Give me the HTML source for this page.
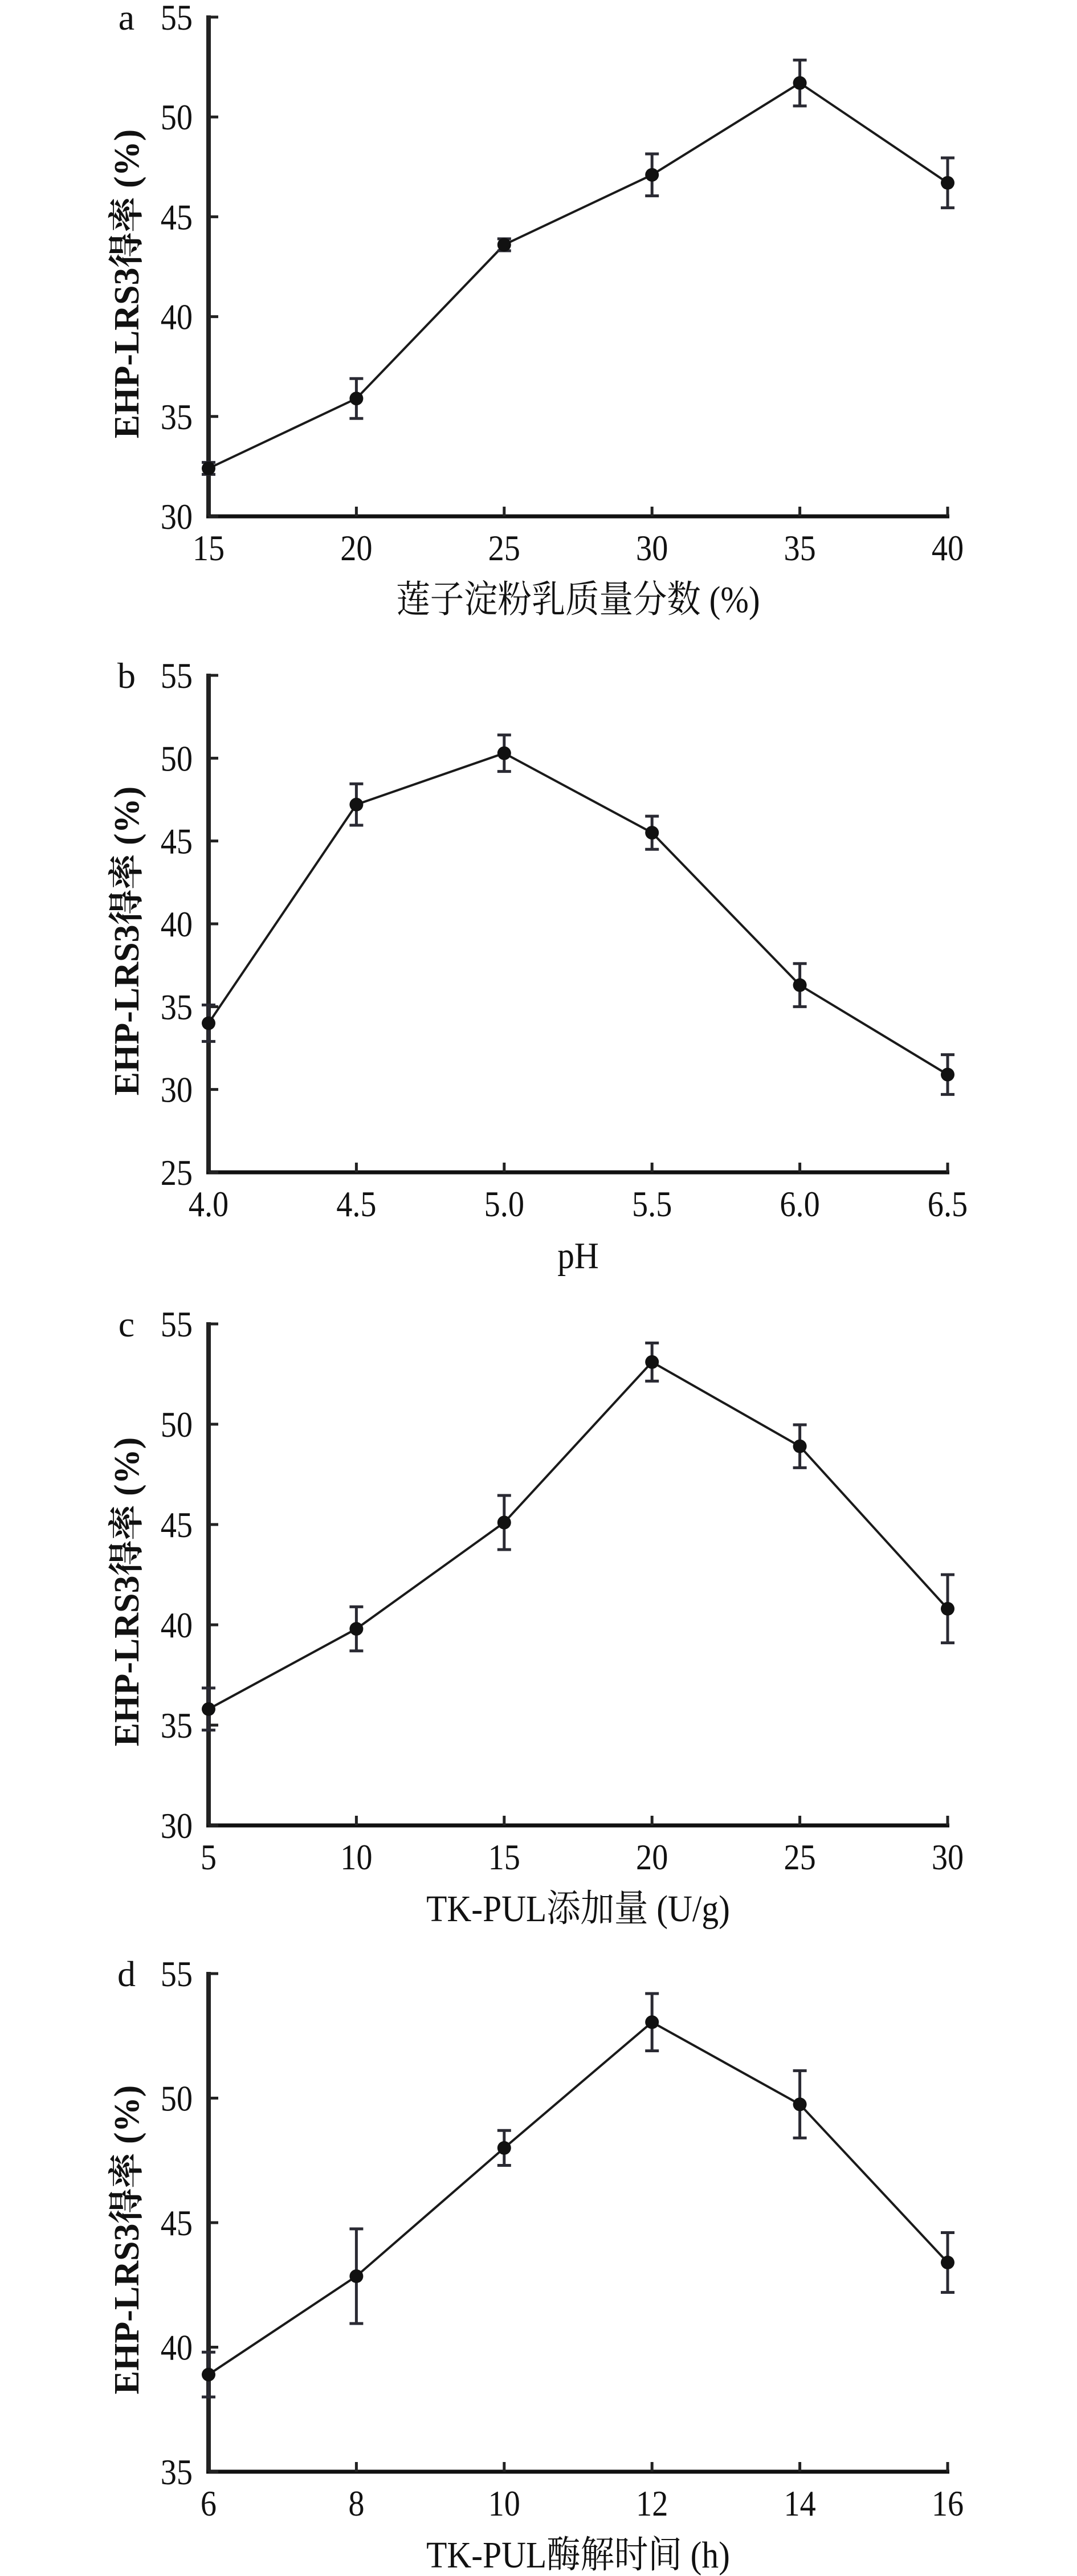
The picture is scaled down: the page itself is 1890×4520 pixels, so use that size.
<!DOCTYPE html>
<html><head><meta charset="utf-8"><style>
html,body{margin:0;padding:0;background:#fff;}
svg{display:block;}
text{font-family:"Liberation Serif","Noto Serif CJK SC",serif;fill:#111;}
</style></head><body>
<svg id="fig" width="1890" height="4520" viewBox="0 0 1890 4520" xmlns="http://www.w3.org/2000/svg"></svg>
<script>
// Panel a
const catsA = [15, 20, 25, 30, 35, 40];
const valsA = [32.4, 35.9, 43.6, 47.1, 51.7, 46.7];
const errsA = [0.3, 1.0, 0.3, 1.05, 1.15, 1.25];
const yTicksA = [30, 35, 40, 45, 50, 55];
const xLabelsA = ["15", "20", "25", "30", "35", "40"];
// Panel b
const catsB = [4.0, 4.5, 5.0, 5.5, 6.0, 6.5];
const valsB = [34.0, 47.2, 50.3, 45.5, 36.3, 30.9];
const errsB = [1.1, 1.25, 1.1, 1.0, 1.3, 1.2];
const yTicksB = [25, 30, 35, 40, 45, 50, 55];
const xLabelsB = ["4.0", "4.5", "5.0", "5.5", "6.0", "6.5"];
// Panel c
const catsC = [5, 10, 15, 20, 25, 30];
const valsC = [35.8, 39.8, 45.1, 53.1, 48.9, 40.8];
const errsC = [1.05, 1.1, 1.35, 0.95, 1.07, 1.7];
const yTicksC = [30, 35, 40, 45, 50, 55];
const xLabelsC = ["5", "10", "15", "20", "25", "30"];
// Panel d
const catsD = [6, 8, 10, 12, 14, 16];
const valsD = [38.9, 42.85, 48.0, 53.05, 49.75, 43.4];
const errsD = [0.9, 1.9, 0.7, 1.15, 1.35, 1.2];
const yTicksD = [35, 40, 45, 50, 55];
const xLabelsD = ["6", "8", "10", "12", "14", "16"];

const NS = "http://www.w3.org/2000/svg";
const svg = document.getElementById("fig");
function mk(tag, attrs, parent) {
  const e = document.createElementNS(NS, tag);
  for (const k in attrs) e.setAttribute(k, attrs[k]);
  (parent || svg).appendChild(e);
  return e;
}

function panel(id, letter, cats, vals, errs, yTicks, xLabels, xTitle, top, bottom) {
  const g = mk("g", {});
  
  
  const x0 = 366, x1 = 1663;
  const xmin = cats[0], xmax = cats[cats.length - 1];
  const ymin = yTicks[0], ymax = yTicks[yTicks.length - 1];
  const X = v => x0 + (v - xmin) / (xmax - xmin) * (x1 - x0);
  const Y = v => bottom - (v - ymin) / (ymax - ymin) * (bottom - top);

  const ya = mk("line", {x1: x0, y1: top - 3, x2: x0, y2: bottom + 3, stroke: "#222", "stroke-width": 8}, g);
  
  
  const xa = mk("line", {x1: x0 - 4, y1: bottom, x2: x1 + 3, y2: bottom, stroke: "#111", "stroke-width": 7}, g);
  
  

  yTicks.forEach(t => {
    const y = Y(t);
    const tk = mk("line", {x1: x0, y1: y, x2: x0 + 17, y2: y, stroke: "#222", "stroke-width": 5}, g);
    
    
    const tx = mk("text", {transform: `translate(338,${y + 22}) scale(0.88,1)`, "font-size": 64, "text-anchor": "end"}, g);
    tx.textContent = t;
    
    
  });
  cats.forEach((c, i) => {
    const x = X(c);
    const tk = mk("line", {x1: x, y1: bottom, x2: x, y2: bottom - 17, stroke: "#222", "stroke-width": 5}, g);
    
    
    const tx = mk("text", {transform: `translate(${x},${bottom + 77}) scale(0.88,1)`, "font-size": 64, "text-anchor": "middle"}, g);
    tx.textContent = xLabels[i];
    
    
  });
  const lt = mk("text", {x: 222, y: top + 22, "font-size": 64, "text-anchor": "middle"}, g);
  lt.textContent = letter;
  
  
  const yt = mk("text", {transform: `translate(243,${(top + bottom) / 2 + 30}) rotate(-90)`, "font-size": 62, "font-weight": "bold", "text-anchor": "middle"}, g);
  yt.textContent = "EHP-LRS3得率 (%)";
  
  
  const xt = mk("text", {transform: `translate(${(x0 + x1) / 2},${bottom + 168}) scale(0.9,1)`, "font-size": 66, "text-anchor": "middle"}, g);
  xt.textContent = xTitle;
  
  

  const pts = cats.map((c, i) => X(c) + "," + Y(vals[i])).join(" ");
  const pl = mk("polyline", {points: pts, fill: "none", stroke: "#1a1a1a", "stroke-width": 4}, g);
  
  
  cats.forEach((c, i) => {
    const x = X(c), yH = Y(vals[i] + errs[i]), yL = Y(vals[i] - errs[i]);
    const eb = mk("path", {d: `M${x},${yH}V${yL}M${x - 12},${yH}H${x + 12}M${x - 12},${yL}H${x + 12}`, stroke: "#2a2a33", "stroke-width": 5, fill: "none"}, g);
    
    
    const pt = mk("circle", {cx: x, cy: Y(vals[i]), r: 12, fill: "#111"}, g);
    
    
  });
}

panel("a", "a", catsA, valsA, errsA, yTicksA, xLabelsA, "莲子淀粉乳质量分数 (%)", 30, 906);
panel("b", "b", catsB, valsB, errsB, yTicksB, xLabelsB, "pH", 1185, 2057);
panel("c", "c", catsC, valsC, errsC, yTicksC, xLabelsC, "TK-PUL添加量 (U/g)", 2323, 3203);
panel("d", "d", catsD, valsD, errsD, yTicksD, xLabelsD, "TK-PUL酶解时间 (h)", 3463, 4337);
</script>
</body></html>
